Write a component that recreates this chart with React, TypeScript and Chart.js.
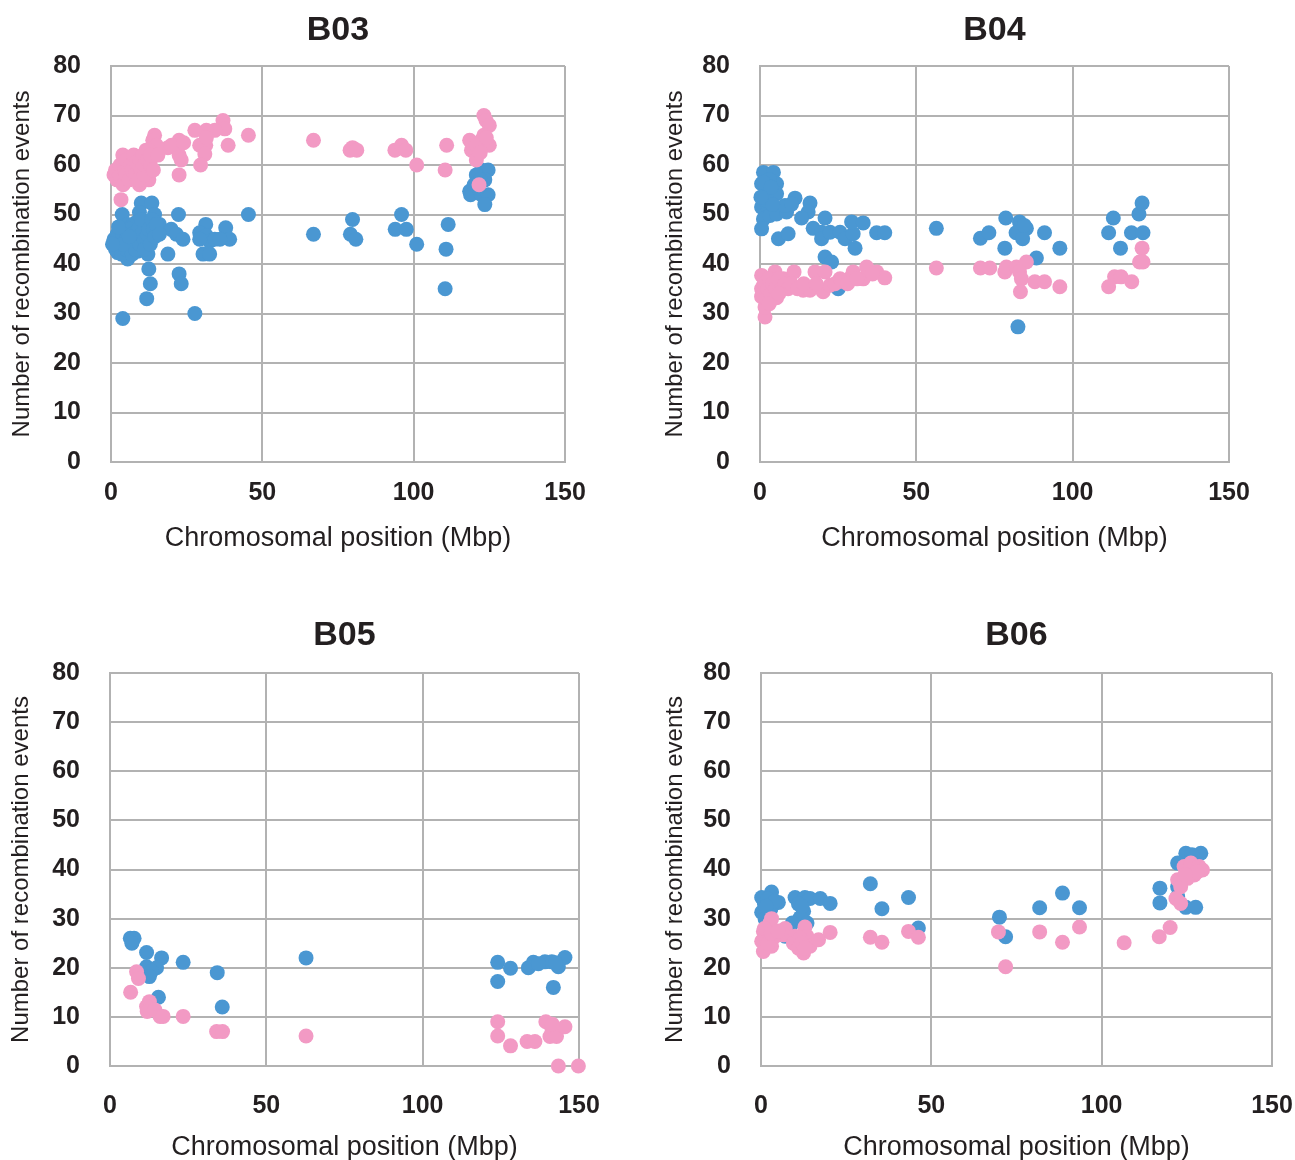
import React, { useEffect, useRef } from "react";
import { Chart, registerables } from "chart.js";
Chart.register(...registerables);

type P = [number, number];

const xTicks = [0, 50, 100, 150];
const yTicks = [0, 10, 20, 30, 40, 50, 60, 70, 80];
const titles = ["B03", "B04", "B05", "B06"];

const b03Pink: P[] = [
  [37, 69], [37.6, 67.3], [34.3, 67], [31.5, 67], [27.7, 67], [45.4, 66], [66.9, 65], [38.7, 64], [31.3, 64], [29.3, 64],
  [31.5, 65.5], [31, 62.2], [29.6, 60], [22.5, 65], [22.5, 62], [23.2, 61], [22.5, 58], [18.8, 63.5], [14.4, 66], [13.8, 65],
  [15, 64], [11.6, 63], [14.4, 62], [10.5, 61], [7.2, 61], [3.9, 62], [2.2, 59], [1.7, 57.5], [3.9, 57], [9.4, 56],
  [12.5, 57], [11.6, 59], [6.1, 59], [8.3, 60], [3.3, 53],
  [1, 58], [1.5, 59], [2, 57], [3, 58], [3, 60], [4, 56], [4.5, 59], [5, 58], [5, 61], [6, 57], [6.5, 60], [7, 59],
  [7.5, 62], [8, 58], [8.5, 60.5], [9, 57], [9.5, 61], [10, 59], [10.5, 62], [11, 58], [11, 60], [12, 61], [12.5, 63],
  [13, 60], [13, 62], [14, 59], [15.5, 62], [20, 64], [24, 64.5],
  [79.8, 63.5], [79, 63], [81.2, 63], [93.8, 63], [96, 64], [97.4, 63], [101, 60], [110.9, 64], [110.4, 59],
  [123.2, 70], [123.9, 69], [125, 68], [123.2, 66], [122.4, 65], [118.5, 65], [119.1, 63], [120.7, 64], [125, 64],
  [120.7, 61], [121.6, 56], [122, 62.5], [124, 65.5],
];
const b03Blue: P[] = [
  [45.4, 50], [22.3, 50], [3.7, 50], [10, 52.3], [13.5, 52.3], [9.4, 50.4], [14.4, 50], [16, 48], [12.2, 48.4], [8.3, 48.4],
  [5.5, 48], [6.6, 47.5], [2.8, 47.3], [1.7, 44.6], [1.1, 44.6], [2.2, 42.3], [5.5, 41], [8.8, 42.6], [12.2, 42], [14.9, 46],
  [19.9, 47], [21.6, 46], [23.8, 45], [18.8, 42], [12.5, 39], [13, 36], [11.8, 33], [22.5, 38], [23.2, 36], [3.9, 29],
  [27.7, 30], [31.3, 48], [29.3, 46.3], [31.5, 45.7], [32.6, 44.6], [29.3, 45], [34.3, 45], [37.9, 47.3], [39.2, 45],
  [30.4, 42], [32.6, 42], [36, 45],
  [1, 45], [1.5, 43], [2, 46], [3, 44], [3.5, 42], [4, 46], [5, 43], [5, 45], [6, 47], [6.5, 44], [7, 42], [7, 46],
  [8, 45], [8, 43], [9, 47], [9.5, 44], [10, 46], [10, 49], [11, 45], [11, 43], [12, 46], [12.5, 47], [13, 44],
  [13.5, 49], [14, 47], [14.5, 45.5], [15, 48], [16, 46], [4, 44], [6, 45.5], [0.5, 44], [2.5, 47.5],
  [66.9, 46], [79.8, 49], [79.1, 46], [80.9, 45], [96, 50], [93.9, 47], [97.6, 47], [101, 44], [111.4, 48], [110.7, 43],
  [110.4, 35], [122.4, 59], [124.6, 59], [120.7, 58], [123.5, 57], [118.5, 54.7], [118.8, 54], [122.4, 54], [124.6, 54],
  [123.5, 52], [121.3, 55.4], [120, 56], [122, 57],
];

const b04Pink: P[] = [
  [1.6, 29.3], [1.6, 31.3], [0.5, 33.4], [5.3, 33.2], [1.1, 35.7], [0.5, 37.7], [4.8, 38.4], [2.7, 37], [7.5, 37],
  [10.9, 38.4], [13.8, 34.7], [16, 34.7], [17.6, 38.4], [20.8, 38.4], [20.2, 34.4], [22.4, 35.7], [25.6, 37], [28.5, 37],
  [29.8, 38.4], [33, 37], [34.1, 39.4], [37.3, 38.4], [39.9, 37.2], [56.4, 39.2], [70.5, 39.2], [73.5, 39.2],
  [0.5, 35], [1, 34], [1.5, 36], [2, 33], [2.5, 35], [3, 37], [3.5, 34], [4, 36], [5, 35], [6, 37], [7, 35], [8, 36],
  [9, 35], [10, 36], [12, 35], [14, 36], [18, 36], [24, 36], [26, 36.5], [28, 36], [31, 37], [36, 38], [3, 32], [6, 34],
  [78.3, 38.4], [78.8, 39.4], [82, 39.4], [85.2, 40.4], [83, 38.4], [83.6, 37], [87.9, 36.4], [91, 36.4], [83.3, 34.4],
  [95.9, 35.4], [122.2, 43.2], [121.4, 40.4], [122.5, 40.4], [113.4, 37.4], [115.5, 37.4], [111.5, 35.4], [118.9, 36.4],
];
const b04Blue: P[] = [
  [1.1, 58.5], [4.3, 58.5], [0.5, 56.2], [5.3, 56.2], [2.7, 55.2], [5.3, 54.2], [0.5, 51.5], [2.7, 51.1], [1.1, 49.1],
  [0.5, 47.1], [3.2, 49.8], [5.3, 50.1], [8.5, 50.5], [8, 51.8], [11.2, 53.3], [10.1, 52.1], [16, 52.3], [15.4, 50.5],
  [13.3, 49.3], [5.9, 45.1], [9, 46.1], [20.8, 49.3], [17, 47.2], [19.7, 46.4], [19.7, 45.1], [22.4, 46.4], [25.6, 46.4],
  [27.2, 45.1], [29.8, 46.1], [29.3, 48.5], [33, 48.3], [30.4, 43.2], [37.3, 46.3], [39.9, 46.3], [20.8, 41.4],
  [22.9, 40.4], [25, 35], [56.4, 47.2], [70.5, 45.2], [73.2, 46.3],
  [1.5, 53], [3, 57], [2, 54], [4, 52], [1, 56.5], [3.5, 55.5], [0.3, 53.5],
  [78.6, 49.3], [78.3, 43.2], [83, 48.5], [85.2, 47.2], [81.9, 46.3], [84, 45.1], [91, 46.3], [95.9, 43.2], [88.4, 41.2],
  [82.5, 27.3], [113, 49.3], [111.5, 46.3], [115.3, 43.2], [118.8, 46.3], [122.5, 46.3], [121.2, 50.1], [122.2, 52.3],
  [84.5, 47.8],
];

const b05Pink: P[] = [
  [8.5, 19.2], [9.1, 17.8], [6.6, 15], [12.6, 13.1], [11.7, 12.1], [11.9, 11.1], [14.4, 11.4], [16, 10.1], [17, 10.1],
  [23.4, 10.1], [34.1, 7], [36, 7], [62.7, 6.1],
  [124, 9], [124, 6.1], [128.1, 4.1], [133.4, 5], [135.9, 5], [139.4, 9], [141.3, 7.7], [140.7, 6], [142.8, 6],
  [145.5, 8], [143.4, 0], [149.8, 0], [141.5, 8.5],
];
const b05Blue: P[] = [
  [6.5, 26], [7.7, 26], [7, 25], [11.7, 23.1], [16.5, 22], [23.4, 21.1], [11.7, 20.2], [14.9, 20], [13.3, 19.3],
  [12.6, 18.2], [34.3, 19], [15.5, 14], [35.9, 12], [62.7, 22],
  [124, 21.1], [124, 17.2], [128.1, 19.9], [133.8, 20], [135.4, 21.1], [139.1, 21.2], [141.3, 21.2], [143.4, 20.2],
  [145.5, 22.1], [141.8, 16], [137, 20.8], [142.5, 21],
];

const b06Pink: P[] = [
  [3.1, 30], [2.6, 29.1], [0.7, 27.4], [0.2, 25.4], [0.7, 23.3], [3.1, 24.4], [4, 26.3], [7.1, 28], [6.6, 26.7],
  [10, 26.4], [9.5, 25], [11, 24], [12.5, 23], [12.9, 28.3], [13.5, 26.4], [14.4, 24.4], [16.9, 25.7], [20.3, 27.2],
  [32.1, 26.2], [35.5, 25.2], [43.3, 27.4], [46.2, 26.2],
  [1.5, 26], [2, 25], [1, 28], [3, 27], [5, 27.5], [11.5, 26], [12, 25], [13, 24],
  [69.7, 27.3], [71.8, 20.2], [81.8, 27.3], [88.5, 25.2], [93.5, 28.3], [106.6, 25.1], [116.9, 26.3], [120.1, 28.2],
  [122.3, 37.9], [121.8, 34.1], [123.2, 33.1], [124.2, 40.6], [126.2, 41.3], [128.6, 40.6], [129.6, 39.9], [127.2, 38.9],
  [125.2, 38.2], [123.2, 36.5], [128, 39.5], [124.5, 39],
];
const b06Blue: P[] = [
  [0.2, 34.3], [3.1, 35.4], [5.1, 33.3], [0.2, 31.3], [2.9, 32], [1.2, 30], [10, 34.3], [12.9, 34.3], [14.4, 34.1],
  [17.4, 34.1], [20.3, 33.1], [12.5, 31.5], [11.5, 30.2], [13.5, 29.1], [9.2, 29.1], [7.1, 26.4], [32.1, 37.1],
  [35.5, 32], [43.3, 34.3], [46.2, 28.1],
  [1, 33], [2, 34], [4, 33.5], [1.5, 32.5], [11, 33], [12, 32.5],
  [70, 30.3], [71.8, 26.3], [81.8, 32.2], [88.5, 35.2], [93.5, 32.2],
  [117.1, 36.2], [117.1, 33.2], [124.7, 43.3], [129.1, 43.3], [122.3, 41.3], [127.2, 41.3], [122.3, 36.5], [122.3, 34.5],
  [124.7, 32.3], [127.6, 32.3], [123.5, 38], [126.5, 43],
];

const PINK = "#f29ac4";
const BLUE = "#4a97d2";
const GRID = "#b2b2b2";
const TEXT = "#231f20";
const FONT = "'Liberation Sans', Arial, sans-serif";

type Panel = {
  title: string;
  pink: P[];
  blue: P[];
  box: { left: number; top: number; width: number; height: number };
  pad: { left: number; right: number; top: number; bottom: number };
  xAxisH: number;
  xTickPad: number;
  xTitlePad: number;
  yTitlePad: number;
  titleY: number;
};

const panels: Panel[] = [
  {
    title: titles[0], pink: b03Pink, blue: b03Blue,
    box: { left: 0, top: 0, width: 640, height: 580 },
    pad: { left: 1, right: 75, top: 66, bottom: 23 },
    xAxisH: 95, xTickPad: 16, xTitlePad: 7, yTitlePad: 9, titleY: 31,
  },
  {
    title: titles[1], pink: b04Pink, blue: b04Blue,
    box: { left: 650, top: 0, width: 645, height: 580 },
    pad: { left: 0, right: 66, top: 66, bottom: 23 },
    xAxisH: 95, xTickPad: 16, xTitlePad: 7, yTitlePad: 13, titleY: 31,
  },
  {
    title: titles[2], pink: b05Pink, blue: b05Blue,
    box: { left: 0, top: 590, width: 640, height: 570 },
    pad: { left: 0, right: 61, top: 83, bottom: 1 },
    xAxisH: 93, xTickPad: 25, xTitlePad: 0, yTitlePad: 9, titleY: 46,
  },
  {
    title: titles[3], pink: b06Pink, blue: b06Blue,
    box: { left: 650, top: 590, width: 645, height: 570 },
    pad: { left: 1, right: 23, top: 83, bottom: 1 },
    xAxisH: 93, xTickPad: 25, xTitlePad: 0, yTitlePad: 12, titleY: 46,
  },
];

const panelTitle = {
  id: "panelTitle",
  afterDraw(chart: any, _args: any, opts: any) {
    const { ctx, chartArea } = chart;
    ctx.save();
    ctx.font = `bold 34px ${FONT}`;
    ctx.fillStyle = TEXT;
    ctx.textAlign = "center";
    ctx.textBaseline = "middle";
    ctx.fillText(opts.text, (chartArea.left + chartArea.right) / 2, opts.y);
    ctx.restore();
  },
};

function ScatterPanel({ p }: { p: Panel }) {
  const ref = useRef<HTMLCanvasElement>(null);
  useEffect(() => {
    if (!ref.current) return;
    const toPts = (a: P[]) => a.map(([x, y]) => ({ x, y }));
    const chart = new Chart(ref.current, {
      type: "scatter",
      data: {
        datasets: [
          { label: "pink", data: toPts(p.pink), backgroundColor: PINK, borderWidth: 0, pointRadius: 7.5, pointHoverRadius: 7.5, clip: false as any },
          { label: "blue", data: toPts(p.blue), backgroundColor: BLUE, borderWidth: 0, pointRadius: 7.5, pointHoverRadius: 7.5, clip: false as any },
        ],
      },
      options: {
        animation: false,
        responsive: false,
        maintainAspectRatio: false,
        events: [],
        layout: { padding: p.pad },
        plugins: {
          legend: { display: false },
          tooltip: { enabled: false },
          title: { display: false },
          panelTitle: { text: p.title, y: p.titleY },
        } as any,
        scales: {
          x: {
            type: "linear",
            min: 0,
            max: 150,
            afterBuildTicks: (s: any) => { s.ticks = xTicks.map((v) => ({ value: v })); },
            afterFit: (s: any) => { s.height = p.xAxisH; s.paddingLeft = 0; s.paddingRight = 0; },
            ticks: { color: TEXT, font: { family: FONT, size: 25, weight: "bold", lineHeight: 1.2 }, padding: p.xTickPad, maxRotation: 0, autoSkip: false },
            grid: { color: GRID, lineWidth: 2, drawTicks: false },
            border: { color: GRID, width: 2 },
            title: { display: true, text: "Chromosomal position (Mbp)", color: TEXT, font: { family: FONT, size: 27, lineHeight: 0.85 }, padding: { top: 0, bottom: p.xTitlePad } },
          },
          y: {
            type: "linear",
            min: 0,
            max: 80,
            afterBuildTicks: (s: any) => { s.ticks = yTicks.map((v) => ({ value: v })); },
            afterFit: (s: any) => { s.width = 110; s.paddingTop = 0; s.paddingBottom = 0; },
            ticks: { color: TEXT, font: { family: FONT, size: 25, weight: "bold", lineHeight: 1.2 }, padding: 30, autoSkip: false },
            grid: { color: GRID, lineWidth: 2, drawTicks: false },
            border: { color: GRID, width: 2 },
            title: { display: true, text: "Number of recombination events", color: TEXT, font: { family: FONT, size: 24, lineHeight: 1 }, padding: { top: p.yTitlePad, bottom: 0 } },
          },
        },
      } as any,
      plugins: [panelTitle],
    });
    return () => chart.destroy();
  }, [p]);
  return (
    <div style={{ position: "absolute", left: p.box.left, top: p.box.top, width: p.box.width, height: p.box.height }}>
      <canvas ref={ref} width={p.box.width} height={p.box.height} style={{ display: "block", width: p.box.width, height: p.box.height }} />
    </div>
  );
}

export default function App() {
  return (
    <div>
      {panels.map((p) => (
        <ScatterPanel key={p.title} p={p} />
      ))}
    </div>
  );
}
